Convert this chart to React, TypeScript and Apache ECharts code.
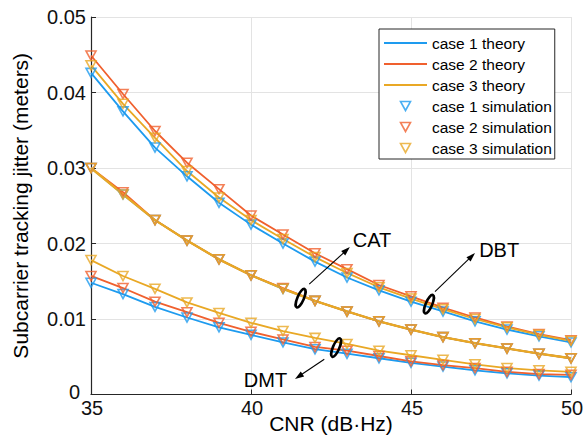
import React, { useEffect, useRef } from 'react';
import * as echarts from 'echarts';

const cnr = [35, 36, 37, 38, 39, 40, 41, 42, 43, 44, 45, 46, 47, 48, 49, 50];

// DBT group
const dbtCase1 = [0.0426, 0.0375, 0.0327, 0.0289, 0.0254, 0.0225, 0.0200, 0.0176, 0.0155, 0.0138, 0.0123, 0.0110, 0.0097, 0.0086, 0.0077, 0.0069];
const dbtCase2 = [0.0449, 0.0398, 0.0349, 0.0307, 0.0272, 0.0237, 0.0212, 0.0187, 0.0166, 0.0145, 0.0130, 0.0115, 0.0102, 0.0090, 0.0080, 0.0072];
const dbtCase3 = [0.0436, 0.0385, 0.0340, 0.0296, 0.0261, 0.0231, 0.0206, 0.0182, 0.0161, 0.0142, 0.0127, 0.0113, 0.0100, 0.0089, 0.0079, 0.0071];

// CAT group
const catCase1 = [0.0300, 0.0265, 0.0231, 0.0204, 0.0179, 0.0158, 0.0140, 0.0124, 0.0110, 0.0097, 0.0086, 0.0076, 0.0068, 0.0061, 0.0054, 0.0048];
const catCase2 = [0.0300, 0.0268, 0.0231, 0.0204, 0.0179, 0.0158, 0.0141, 0.0124, 0.0110, 0.0097, 0.0086, 0.0076, 0.0068, 0.0061, 0.0054, 0.0048];
const catCase3 = [0.0300, 0.0265, 0.0231, 0.0204, 0.0179, 0.0158, 0.0140, 0.0124, 0.0110, 0.0097, 0.0086, 0.0076, 0.0068, 0.0061, 0.0054, 0.0048];

// DMT group
const dmtCase1 = [0.0148, 0.0133, 0.0116, 0.0102, 0.0089, 0.0079, 0.0069, 0.0060, 0.0054, 0.0048, 0.0042, 0.0037, 0.0032, 0.0028, 0.0025, 0.0023];
const dmtCase2 = [0.0157, 0.0141, 0.0123, 0.0109, 0.0095, 0.0083, 0.0073, 0.0063, 0.0058, 0.0051, 0.0044, 0.0039, 0.0035, 0.0030, 0.0027, 0.0026];
const dmtCase3 = [0.0178, 0.0157, 0.0140, 0.0122, 0.0108, 0.0095, 0.0084, 0.0075, 0.0067, 0.0058, 0.0052, 0.0046, 0.0040, 0.0035, 0.0032, 0.0030];

const yTicks = [0, 0.01, 0.02, 0.03, 0.04, 0.05];
const xTicks = [35, 40, 45, 50];

const caseNames = ['case 1', 'case 2', 'case 3'];
const colors = ['#1E9BEF', '#F0602E', '#E9A825'];
const groups = [
  [dbtCase1, catCase1, dmtCase1],
  [dbtCase2, catCase2, dmtCase2],
  [dbtCase3, catCase3, dmtCase3],
];

// annotations in data coordinates
const annotations = [
  { label: 'CAT', ellipse: [41.55, 0.01276], from: [41.82, 0.01462], to: [43.09, 0.01952], text: [43.18, 0.02042], align: 'left' },
  { label: 'DBT', ellipse: [45.56, 0.01196], from: [45.75, 0.01363], to: [47.0, 0.01873], text: [47.13, 0.01916], align: 'left' },
  { label: 'DMT', ellipse: [42.66, 0.00621], from: [42.29, 0.00467], to: [41.375, 0.00206], text: [41.13, 0.00192], align: 'right' },
];

const FONT = '"Liberation Sans", Arial, Helvetica, sans-serif';
const TRI = 'path://M0,0L10,0L5,9Z';
const LINE_ICON = 'path://M0,0L43,0L43,1.8L0,1.8Z';

export default function App() {
  const ref = useRef<HTMLDivElement>(null);
  useEffect(() => {
    document.body.style.margin = '0';
    const chart = echarts.init(ref.current!, null, { renderer: 'svg' });
    const series: any[] = [];
    for (let c = 0; c < 3; c++) {
      for (let g = 0; g < 3; g++) {
        series.push({
          type: 'line',
          name: caseNames[c] + ' theory',
          data: cnr.map((x, i) => [x, groups[c][g][i]]),
          symbol: 'none',
          showSymbol: false,
          lineStyle: { color: colors[c], width: c === 2 && g === 1 ? 2.3 : 1.8 },
          itemStyle: { color: colors[c] },
          z: 2,
        });
      }
    }
    for (let c = 0; c < 3; c++) {
      for (let g = 0; g < 3; g++) {
        series.push({
          type: 'scatter',
          name: caseNames[c] + ' simulation',
          data: cnr.map((x, i) => [x, groups[c][g][i]]),
          symbol: TRI,
          symbolSize: [10, 9],
          itemStyle: { color: 'rgba(0,0,0,0)', borderColor: colors[c], borderWidth: 1.6 },
          z: 3,
        });
      }
    }
    const legendData = [
      ...caseNames.map((n, i) => ({ name: n + ' theory', icon: LINE_ICON, itemStyle: { color: colors[i], borderWidth: 0 } })),
      ...caseNames.map((n, i) => ({ name: n + ' simulation', icon: TRI, itemStyle: { borderColor: colors[i], borderWidth: 1.6, color: 'rgba(0,0,0,0)' } })),
    ];
    chart.setOption({
      animation: false,
      backgroundColor: '#fff',
      textStyle: { fontFamily: FONT },
      grid: { left: 91, right: 12, top: 17, bottom: 44.5, outerBoundsMode: 'none' },
      legend: {
        left: 379,
        top: 29,
        orient: 'vertical',
        itemWidth: 43,
        itemHeight: 9,
        itemGap: 5,
        padding: [6, 3, 3, 5],
        borderColor: '#262626',
        borderWidth: 1,
        borderRadius: 0,
        backgroundColor: '#fff',
        textStyle: { fontSize: 15.5, color: '#000', fontFamily: FONT },
        data: legendData,
        selectedMode: false,
      },
      xAxis: {
        type: 'value',
        min: xTicks[0],
        max: xTicks[xTicks.length - 1],
        interval: 5,
        name: 'CNR (dB·Hz)',
        nameLocation: 'middle',
        nameGap: 18,
        nameMoveOverlap: false,
        nameTextStyle: { fontSize: 21, color: '#000', fontFamily: FONT, verticalAlign: 'top' },
        axisLine: { show: true, onZero: false, lineStyle: { color: '#262626', width: 1.2 } },
        axisTick: { show: true, inside: true, length: 5, lineStyle: { color: '#262626' } },
        axisLabel: { fontSize: 20, color: '#111', margin: 3, padding: [0, 0, 0, 2], fontFamily: FONT },
        splitLine: { show: true, lineStyle: { color: '#e3e3e3', width: 1 } },
      },
      yAxis: {
        type: 'value',
        min: yTicks[0],
        max: yTicks[yTicks.length - 1],
        interval: 0.01,
        name: 'Subcarrier tracking jitter (meters)',
        nameLocation: 'middle',
        nameGap: 60,
        nameMoveOverlap: false,
        nameTextStyle: { fontSize: 21, color: '#000', fontFamily: FONT },
        axisLine: { show: true, onZero: false, lineStyle: { color: '#262626', width: 1.2 } },
        axisTick: { show: true, inside: true, length: 5, lineStyle: { color: '#262626' } },
        axisLabel: {
          fontSize: 20,
          color: '#111',
          margin: 5,
          fontFamily: FONT,
          formatter: (v: number) => (v === 0 ? '{z|0}' : v.toFixed(2)),
          rich: { z: { fontSize: 20, color: '#111', fontFamily: FONT, padding: [0, 6, 6, 0] } },
        },
        splitLine: { show: true, lineStyle: { color: '#e3e3e3', width: 1 } },
      },
      series,
    });

    const toPx = (p: number[]) => chart.convertToPixel({ gridIndex: 0 }, p) as number[];
    const elements: any[] = [];
    annotations.forEach((a) => {
      const e = toPx(a.ellipse);
      elements.push({
        type: 'ellipse',
        x: e[0],
        y: e[1],
        rotation: -0.4,
        shape: { cx: 0, cy: 0, rx: 3.2, ry: 10 },
        style: { fill: 'none', stroke: '#000', lineWidth: 2.6 },
        z: 100,
      });
      const s = toPx(a.from);
      const t = toPx(a.to);
      const dx = t[0] - s[0];
      const dy = t[1] - s[1];
      const len = Math.sqrt(dx * dx + dy * dy);
      const ux = dx / len;
      const uy = dy / len;
      const L = 9;
      const W = 6;
      const bx = t[0] - ux * L;
      const by = t[1] - uy * L;
      elements.push({
        type: 'line',
        shape: { x1: s[0], y1: s[1], x2: bx + ux * 2, y2: by + uy * 2 },
        style: { stroke: '#000', lineWidth: 1.1 },
        z: 100,
      });
      elements.push({
        type: 'polygon',
        shape: {
          points: [
            [t[0], t[1]],
            [bx - uy * W / 2, by + ux * W / 2],
            [bx + uy * W / 2, by - ux * W / 2],
          ],
        },
        style: { fill: '#000' },
        z: 100,
      });
      const tp = toPx(a.text);
      elements.push({
        type: 'text',
        x: tp[0],
        y: tp[1],
        style: {
          text: a.label,
          fontSize: 20,
          fontFamily: FONT,
          fill: '#000',
          align: a.align,
          verticalAlign: 'middle',
        },
        z: 100,
      });
    });
    chart.setOption({ graphic: elements });
    return () => chart.dispose();
  }, []);
  return <div ref={ref} style={{ position: 'absolute', left: 0, top: 0, width: 583, height: 439 }} />;
}
